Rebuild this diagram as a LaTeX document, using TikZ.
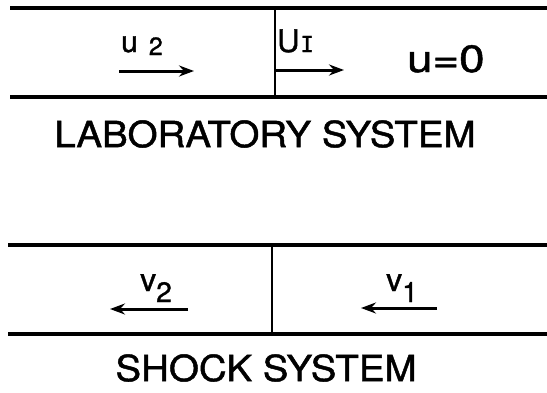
\documentclass[tikz,border=0pt]{standalone}
\usepackage{fontspec}
\setmainfont{TeX Gyre Heros}[FakeBold=1.2]
\newfontfamily\serifI{DejaVu Sans Mono}[FakeBold=1.2]
\usetikzlibrary{arrows.meta}
\tikzset{
  rule/.style={line width=3.4pt},
  wall/.style={line width=2.2pt},
  vel/.style={line width=3pt,-{Stealth[length=15pt,width=11pt,inset=5pt]}},
  lbl/.style={inner sep=0pt, anchor=base west},
  caption/.style={inner sep=0pt, font=\fontsize{36}{36}\selectfont}
}
\newcommand{\fs}[1]{\fontsize{#1}{#1}\selectfont}
\begin{document}
\begin{tikzpicture}[x=1pt,y=-1pt]
\useasboundingbox (0,0) rectangle (547,392);
% laboratory system tube
\coordinate (a1) at (10,8);   \coordinate (a2) at (547,8);
\coordinate (a3) at (10,97);  \coordinate (a4) at (547,97);
\coordinate (aw1) at (275,8); \coordinate (aw2) at (275,97);
\draw[rule] (a1) -- (a2);
\draw[rule] (a3) -- (a4);
\draw[wall] (aw1) -- (aw2);
% shock system tube
\coordinate (b1) at (8,245);   \coordinate (b2) at (547,245);
\coordinate (b3) at (8,334);   \coordinate (b4) at (547,334);
\coordinate (bw1) at (272,245); \coordinate (bw2) at (272,334);
\draw[rule] (b1) -- (b2);
\draw[rule] (b3) -- (b4);
\draw[wall] (bw1) -- (bw2);
% velocity arrows
\coordinate (u2s) at (119,71); \coordinate (u2e) at (194,71);
\coordinate (uIs) at (275,70); \coordinate (uIe) at (344,70);
\coordinate (v2s) at (188,309); \coordinate (v2e) at (110,309);
\coordinate (v1s) at (437,308); \coordinate (v1e) at (361,308);
\draw[vel] (u2s) -- (u2e);
\draw[vel] (uIs) -- (uIe);
\draw[vel] (v2s) -- (v2e);
\draw[vel] (v1s) -- (v1e);
% labels
\node[lbl] (lu2) at (121,52) {\fs{30}u\hspace{11pt}\raisebox{-3pt}{\fs{25}2}};
\node[lbl] (luI) at (277,52) {\fs{31}U\hspace{1pt}\raisebox{0pt}{\serifI\fs{22}I}};
\node[lbl] (lu0) at (407,72) {\scalebox{1.2}[1]{\fs{38}u=0}};
\node[lbl] (lv2) at (140,291) {\fs{32}v\raisebox{-11pt}{\fs{28}2}};
\node[lbl] (lv1) at (386,291) {\fs{32}v\raisebox{-11pt}{\fs{28}1}};
% captions
\node[caption] (lab) at (265,134) {\scalebox{1.07}[1]{LABORATORY SYSTEM}};
\node[caption] (sho) at (266,368) {\scalebox{1.07}[1]{SHOCK SYSTEM}};
\end{tikzpicture}
\end{document}
